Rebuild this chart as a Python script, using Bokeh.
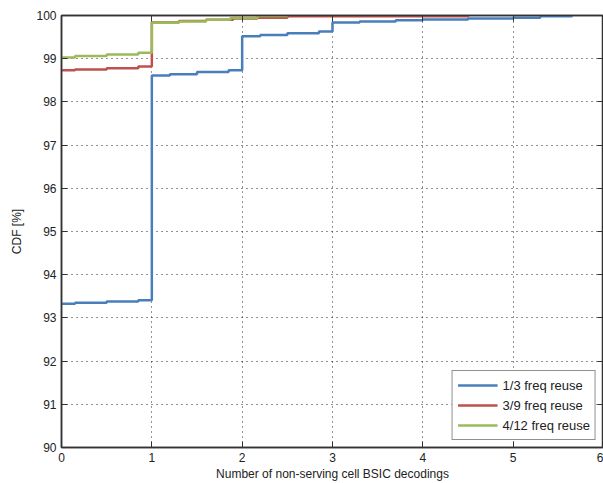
from bokeh.plotting import figure
from bokeh.models import Range1d, LinearAxis, Legend, LegendItem, FixedTicker
from bokeh.embed import file_html
from bokeh.resources import INLINE

# data: step CDFs (value holds from x until next x)
x_13 = [0, 0.15, 0.5, 0.85, 1, 1.2, 1.5, 1.85, 2, 2.2, 2.5, 2.85, 3, 3.3, 3.7, 4, 4.5, 5, 5.3, 5.65]
y_13 = [93.33, 93.35, 93.38, 93.41, 98.61, 98.64, 98.69, 98.73, 99.52, 99.55, 99.59, 99.63,
        99.84, 99.86, 99.89, 99.91, 99.93, 99.95, 99.98, 99.99]

x_39 = [0, 0.15, 0.5, 0.85, 1, 1.3, 1.6, 1.9, 2.17, 2.5, 4.5]
y_39 = [98.73, 98.75, 98.78, 98.82, 99.84, 99.87, 99.90, 99.93, 99.95, 99.98, 100.0]

x_412 = [0, 0.15, 0.5, 0.85, 1, 1.3, 1.6, 1.87, 2.17, 2.5]
y_412 = [99.03, 99.06, 99.10, 99.14, 99.83, 99.86, 99.90, 99.94, 99.99, 100.0]

labels = ["1/3 freq reuse", "3/9 freq reuse", "4/12 freq reuse"]
colors = ["#4a7ebb", "#c0504d", "#9bbb59"]

x_ticks = [0, 1, 2, 3, 4, 5, 6]
y_ticks = [90, 91, 92, 93, 94, 95, 96, 97, 98, 99, 100]

FONT = "Liberation Sans"

p = figure(width=603, height=483, output_backend="svg", toolbar_location=None,
           x_range=Range1d(0, 6), y_range=Range1d(90, 100),
           min_border_left=61, min_border_right=0, min_border_top=15, min_border_bottom=36)
p.outline_line_color = "#333333"
p.outline_line_width = 1.5

for ax in (p.xaxis[0], p.yaxis[0]):
    ax.axis_line_color = "#333333"
    ax.axis_line_width = 1.5
    ax.major_tick_in = 6
    ax.major_tick_out = 0
    ax.minor_tick_line_color = None
    ax.major_tick_line_color = "#333333"
    ax.major_label_text_font = FONT
    ax.major_label_text_font_size = "12px"
    ax.major_label_text_color = "#222222"
    ax.axis_label_text_font = FONT
    ax.axis_label_text_font_size = "12px"
    ax.axis_label_text_font_style = "normal"
    ax.axis_label_text_color = "#222222"
    ax.major_label_standoff = 5

p.xaxis[0].ticker = FixedTicker(ticks=x_ticks)
p.yaxis[0].ticker = FixedTicker(ticks=y_ticks)
p.xaxis[0].axis_label = "Number of non-serving cell BSIC decodings"
p.yaxis[0].axis_label = "CDF [%]"
p.xaxis[0].axis_label_standoff = 2
p.yaxis[0].axis_label_standoff = 9

# top and right axes: ticks only
for loc, ticks in (("above", x_ticks), ("right", y_ticks)):
    a = LinearAxis(ticker=FixedTicker(ticks=ticks))
    a.major_tick_in = 6
    a.major_tick_out = 0
    a.minor_tick_line_color = None
    a.major_label_overrides = {t: "" for t in ticks}
    a.major_label_standoff = 0
    a.axis_line_color = "#333333"
    a.axis_line_width = 1.5
    a.major_tick_line_color = "#333333"
    p.add_layout(a, loc)

p.xgrid.ticker = FixedTicker(ticks=x_ticks)
p.ygrid.ticker = FixedTicker(ticks=y_ticks)
for g in (p.xgrid[0], p.ygrid[0]):
    g.grid_line_color = "black"
    g.grid_line_dash = "1 4"
    g.grid_line_width = 1
    g.grid_line_alpha = 0.85

items = []
for xs, ys, c, lab in ((x_13, y_13, colors[0], labels[0]),
                       (x_39, y_39, colors[1], labels[1]),
                       (x_412, y_412, colors[2], labels[2])):
    r = p.step(xs, ys, mode="after", line_color=c, line_width=2.5)
    items.append(LegendItem(label=lab, renderers=[r]))

legend = Legend(items=items, location="bottom_right")
legend.label_text_font = FONT
legend.label_text_font_size = "13px"
legend.label_text_color = "#222222"
legend.glyph_width = 40
legend.glyph_height = 18
legend.label_height = 18
legend.spacing = 2
legend.padding = 5
legend.margin = 7
legend.label_standoff = 5
legend.border_line_color = "#222222"
legend.border_line_width = 1
legend.background_fill_alpha = 1
p.add_layout(legend)

open("out.html", "w").write(file_html(p, INLINE))
